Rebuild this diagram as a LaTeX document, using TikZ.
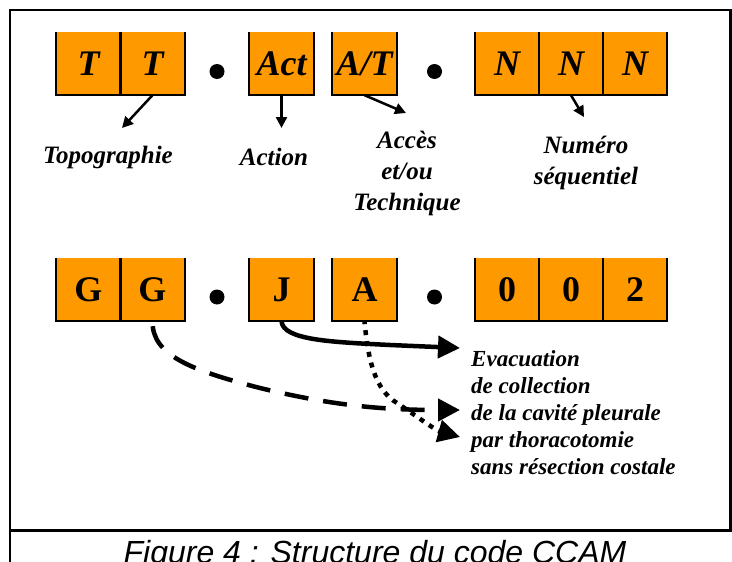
\documentclass[tikz,border=0pt]{standalone}
\usepackage{fontspec}
\setmainfont{Liberation Serif}
\setsansfont{Liberation Sans}
\usetikzlibrary{arrows.meta}
\definecolor{ccamorange}{RGB}{255,153,0}
\newcommand\cellfont{\fontsize{36}{36}\selectfont\bfseries}
\newcommand\keyfont{\fontsize{36}{36}\selectfont\bfseries\itshape}
\newcommand\captionfont{\fontsize{32}{32}\selectfont\sffamily\itshape}

\begin{document}
\begin{tikzpicture}[x=1pt, y=-1pt,
        cell/.style={fill=ccamorange, minimum width=64pt, minimum height=63pt, inner sep=0pt},
        cellline/.style={line width=1.8pt},
        lbl/.style={font=\fontsize{25}{31}\selectfont\bfseries\itshape, align=center, inner sep=0pt},
        rlbl/.style={font=\fontsize{23}{27}\selectfont\bfseries\itshape, align=left, inner sep=0pt},
        tarrow/.style={line width=2.5pt, -{Triangle[length=11pt,width=11pt]}},
        barrow/.style={line width=4.5pt, -{Triangle[length=22pt,width=22pt]}}]
    \path[use as bounding box, clip] (0,0) rectangle (732,562);

    % frame and caption rule
    \draw[line width=2.7pt] (10,562) -- (10,10) -- (730.5,10) -- (730.5,530);
    \draw[line width=3pt] (10,530) -- (732,530);

    % structure of the code
    \foreach \n/\x/\t in {t1/88.5/T, t2/152.5/T, act/281.5/Act, at/364.5/A\slash T, n1/507/N, n2/571/N, n3/635/N}
    \node[cell, font=\keyfont] (\n) at (\x,63.5) {\t};
    % example: GG.JA.002
    \foreach \n/\x/\t in {g1/88.5/G, g2/152.5/G, j/281.5/J, a/364.5/A, d1/507/0, d2/571/0, d3/635/2}
    \node[cell, font=\cellfont] (\n) at (\x,289.5) {\t};

    % cells have no top edge
    \foreach \n in {t1,t2,act,at,n1,n2,n3,g1,g2,j,a,d1,d2,d3}
    \draw[cellline] (\n.north west) -- (\n.south west) -- (\n.south east) -- (\n.north east);

    \foreach \x/\y in {217/71.5, 434.5/71.5, 217/297, 434.5/297}
    \fill (\x,\y) circle (7.5);

    \node[lbl] (topo) at (108,157) {Topographie};
    \node[lbl] (action) at (274,157) {Action};
    \node[lbl] (acces) at (407,173) {Accès\\et/ou\\Technique};
    \node[lbl] (numero) at (586,163) {Numéro\\séquentiel};

    \coordinate (topo-tip) at (122,128);
    \coordinate (action-tip) at (281.5,128);
    \coordinate (acces-tip) at (406,113);
    \coordinate (numero-tip) at (584,117);
    \draw[tarrow] (t2.south) -- (topo-tip);
    \draw[tarrow] (act.south) -- (action-tip);
    \draw[tarrow] (at.south) -- (acces-tip);
    \draw[tarrow] (n2.south) -- (numero-tip);

    \node[rlbl, anchor=north west] (evac) at (471,350)
        {Evacuation\\de collection\\de la cavité pleurale\\par thoracotomie\\sans résection costale};

    \coordinate (evac-tip) at (460,348);
    \coordinate (cavite-tip) at (460,410);
    \coordinate (thorax-tip) at (460,437);
    \draw[barrow] (j.south) .. controls (283,340) and (330,342) .. (390,345) -- (evac-tip);
    \draw[barrow, dash pattern=on 24pt off 15pt, dash phase=-5pt]
        (g2.south) .. controls (152,355) and (190,370) .. (260,388) .. controls (330,405) and (380,410) .. (cavite-tip);
    \draw[barrow, dash pattern=on 5pt off 6pt, dash phase=-9pt]
        (a.south) .. controls (368,360) and (375,390) .. (397,403) .. controls (415,415) and (435,430) .. (thorax-tip);

    \node[font=\captionfont, anchor=base] (caption) at (375,563) {Figure 4 : Structure du code CCAM};
\end{tikzpicture}
\end{document}
